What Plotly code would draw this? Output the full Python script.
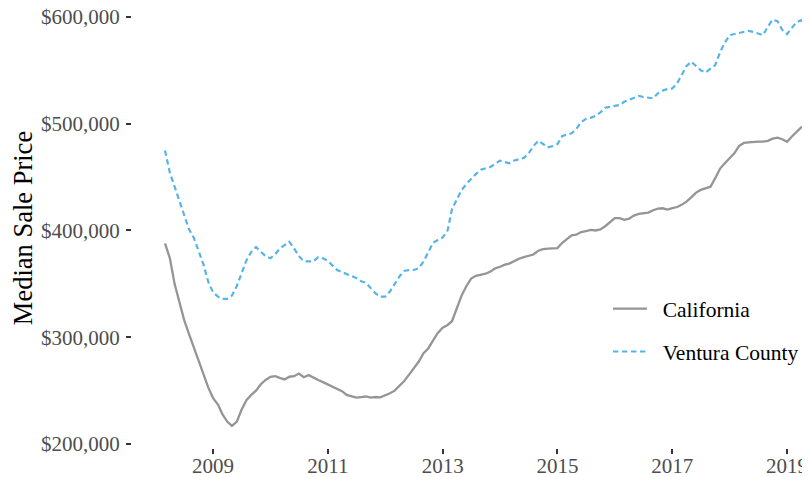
import pandas as pd
import plotly.graph_objects as go

start_month = "2008-03-01"

california = [
    388, 374, 350, 332, 316, 303, 290, 278, 264, 253,
    243, 237, 228, 221, 217, 221, 232, 241, 246, 250,
    256, 260, 263, 263.5, 262, 260.5, 263, 263.5, 266, 262.5,
    264.5, 262, 260, 258, 256, 254, 251.5, 249.5, 246, 244.5,
    243.5, 244, 244.5, 243.5, 244, 243.7, 245.5, 247.5, 250, 254.5,
    259, 265, 271, 277, 285, 289.5, 297, 304, 309, 311.5,
    315, 327, 339, 348, 355, 357.5, 358.5, 359.5, 361.5, 364.5,
    366, 368, 369, 371.5, 373.5, 375, 376.5, 377.5, 381, 382.5,
    383, 383, 383.5, 388.5, 392, 395.5, 396, 398.5, 399.5, 400.5,
    400, 401, 404, 408, 411.5, 411.5, 410, 411, 414, 415.5,
    416, 416.7, 419, 420.5, 420.8, 419.5, 421, 422, 424, 427,
    431, 435.5, 438, 439.5, 441, 449, 458, 463, 468, 472.5,
    479, 482, 482.5, 483, 483.2, 483.2, 484, 486, 487, 485.5,
    483, 488, 492.5, 496.5, 497, 497.5,
]

ventura = [
    475, 454, 441, 428, 414, 401, 393, 381, 368, 352,
    342, 338, 336, 336, 339, 348, 360, 372, 380, 384.5,
    380, 376, 374, 378, 383, 386, 389.5, 383, 376, 371,
    371, 371, 375, 374, 371.5, 367, 363, 361, 359, 357,
    355.5, 352.5, 351, 346, 341, 338, 338, 343, 350, 357,
    362, 363, 363, 364.6, 371, 380, 388.6, 391, 393.5, 400,
    420, 429, 437.9, 443.5, 448.5, 453, 457, 458, 459.5, 462.5,
    465.4, 464, 463, 465.5, 467, 468, 472, 479, 484, 481,
    478, 479, 481, 488.5, 490, 491, 495, 501.5, 504.5, 505.5,
    507.5, 510.5, 515, 516, 516.5, 517.5, 520.5, 522.5, 524.5, 526,
    525, 524.5, 523.8, 528.5, 531, 532.6, 533, 538, 546, 554,
    558.2, 554, 550, 548, 552, 555, 567, 576, 583, 584,
    585, 586, 587, 586, 584.5, 583, 591, 597.5, 596, 588,
    584, 590, 595, 597, 592, 582,
]

dates = pd.date_range(start_month, periods=len(california), freq="MS")

series_names = ["California", "Ventura County"]
tick_years = ["2009", "2011", "2013", "2015", "2017", "2019"]
y_ticks = [200000, 300000, 400000, 500000, 600000]

FONT = "Liberation Serif, Times New Roman, serif"
PAD = "\u00a0\u00a0"

fig = go.Figure()
fig.add_trace(go.Scatter(
    x=dates, y=[v * 1000 for v in california], mode="lines",
    name=PAD + series_names[0], legendgroup="ca",
    line=dict(color="#959595", width=2.3),
))
fig.add_trace(go.Scatter(
    x=dates, y=[v * 1000 for v in ventura], mode="lines",
    name=PAD + series_names[1], legendgroup="vc",
    line=dict(color="#56B4E9", width=2.2, dash="5.5px,3.5px"),
))

fig.update_layout(
    width=802, height=469,
    margin=dict(l=124, r=0, t=0, b=29),
    paper_bgcolor="white", plot_bgcolor="white",
    font=dict(family=FONT, size=21, color="#4d4d4d"),
    legend=dict(
        x=0.702, y=0.268, xanchor="left", yanchor="middle",
        font=dict(family=FONT, size=21.5, color="black"),
        itemwidth=34, tracegroupgap=12, traceorder="grouped",
        bgcolor="rgba(0,0,0,0)",
    ),
    xaxis=dict(
        range=["2007-08-04", "2019-05-27"],
        tickvals=[f"{y}-01-01" for y in tick_years],
        ticktext=tick_years,
        ticks="outside", ticklen=5, tickwidth=1.6, tickcolor="#333333",
        ticklabelstandoff=-6, ticklabeloverflow="allow",
        showgrid=False, zeroline=False, showline=False, automargin=False,
        tickfont=dict(family=FONT, size=21, color="#4d4d4d"),
    ),
    yaxis=dict(
        range=[196250, 608400],
        tickvals=y_ticks, tickformat="$,.0f",
        ticks="outside", ticklen=5, tickwidth=1.6, tickcolor="#333333",
        ticklabelstandoff=2, ticklabeloverflow="allow",
        showgrid=False, zeroline=False, showline=False, automargin=False,
        tickfont=dict(family=FONT, size=21, color="#4d4d4d"),
        title=dict(text="Median Sale Price", standoff=5,
                   font=dict(family=FONT, size=26.5, color="black")),
    ),
)

fig.write_html("out.html")
